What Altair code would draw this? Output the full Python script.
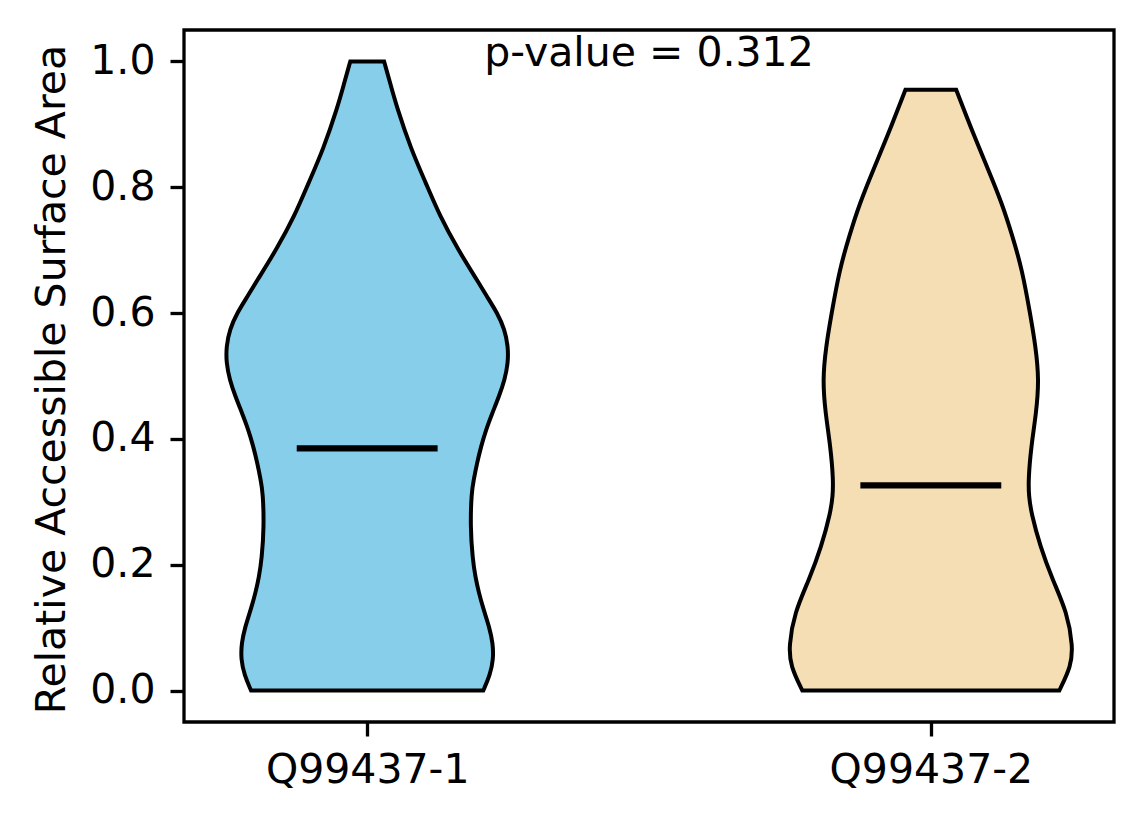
import altair as alt
import pandas as pd

# ---- data ----
categories = ["Q99437-1", "Q99437-2"]
positions = [1, 2]
colors = ["#87CEEB", "#F5DEB3"]
means = [0.385, 0.326]
p_text = "p-value = 0.312"

# violin 1 density profile: y value and half-width (x-axis units)
v1_y = [0.0, 0.025, 0.05, 0.075, 0.10, 0.13, 0.156, 0.18, 0.21, 0.26, 0.315, 0.335,
        0.362, 0.388, 0.415, 0.441, 0.468, 0.494, 0.521, 0.547, 0.574, 0.600, 0.627,
        0.648, 0.701, 0.754, 0.807, 0.860, 0.929, 0.965, 1.0]
v1_hw = [0.206, 0.218, 0.224, 0.223, 0.217, 0.206, 0.198, 0.192, 0.187, 0.183, 0.185, 0.189,
         0.195, 0.202, 0.211, 0.222, 0.234, 0.244, 0.250, 0.250, 0.244, 0.231, 0.212,
         0.198, 0.161, 0.129, 0.104, 0.078, 0.052, 0.041, 0.030]

# violin 2 density profile
v2_y = [0.0, 0.039, 0.07, 0.124, 0.176, 0.229, 0.283, 0.309, 0.335, 0.388, 0.441, 0.494,
        0.547, 0.600, 0.669, 0.722, 0.775, 0.828, 0.881, 0.955]
v2_hw = [0.228, 0.249, 0.252, 0.242, 0.216, 0.194, 0.178, 0.174, 0.173, 0.178, 0.187, 0.192,
         0.186, 0.176, 0.162, 0.145, 0.126, 0.102, 0.077, 0.045]

y_ticks = [0.0, 0.2, 0.4, 0.6, 0.8, 1.0]

FONT = "DejaVu Sans"
FS = 41

rows = []
for cat, pos, ys, hws in [(categories[0], positions[0], v1_y, v1_hw),
                          (categories[1], positions[1], v2_y, v2_hw)]:
    for yv, hw in zip(ys, hws):
        rows.append({"group": cat, "y": yv, "xl": pos - hw, "xr": pos + hw})
violins = pd.DataFrame(rows)

mean_df = pd.DataFrame({
    "group": categories,
    "mean": means,
    "x1": [p - 0.125 for p in positions],
    "x2": [p + 0.125 for p in positions],
})

text_df = pd.DataFrame({"x": [sum(positions) / 2], "y": [0.992], "label": [p_text]})

label_expr = " : ".join(
    f"datum.value == {p} ? '{c}'" for p, c in zip(positions, categories)
) + " : ''"

xscale = alt.Scale(domain=[0.675, 2.325], nice=False, zero=False)
yscale = alt.Scale(domain=[-0.05, 1.05], nice=False, zero=False)

area = alt.Chart(violins).mark_area(
    orient="horizontal", interpolate="basis", stroke="black", strokeWidth=4, opacity=1
).encode(
    y=alt.Y("y:Q", scale=yscale,
            axis=alt.Axis(values=y_ticks, format=".1f", title="Relative Accessible Surface Area",
                          grid=False, domain=False, tickSize=14, tickWidth=3.3, tickColor="black",
                          labelFont=FONT, labelFontSize=FS, labelColor="black", labelPadding=15,
                          titleFont=FONT, titleFontSize=FS, titleFontWeight="normal",
                          titleColor="black", titleAngle=-90, titleBaseline="alphabetic",
                          titleX=-120, titleY=349)),
    x=alt.X("xl:Q", scale=xscale,
            axis=alt.Axis(values=positions, labelExpr=label_expr, title=None, grid=False,
                          domain=False, tickSize=14, tickWidth=3.3, tickColor="black",
                          labelFont=FONT, labelFontSize=FS, labelColor="black",
                          labelPadding=14, labelFlush=False, labelLimit=1000)),
    x2="xr:Q",
    color=alt.Color("group:N", scale=alt.Scale(domain=categories, range=colors), legend=None),
)

mean_rules = alt.Chart(mean_df).mark_rule(color="black", strokeWidth=6.25).encode(
    x=alt.X("x1:Q", scale=xscale),
    x2="x2:Q",
    y=alt.Y("mean:Q", scale=yscale),
)

ptext = alt.Chart(text_df).mark_text(
    font=FONT, fontSize=FS, color="black", align="center", baseline="alphabetic"
).encode(
    x=alt.X("x:Q", scale=xscale),
    y=alt.Y("y:Q", scale=yscale),
    text="label:N",
)

chart = alt.layer(area, mean_rules, ptext).properties(
    width=930, height=692,
    autosize=alt.AutoSizeParams(type="none"),
    padding={"left": 176, "top": 22, "right": 10, "bottom": 80},
    background="white",
).configure_view(stroke="black", strokeWidth=3.3)

chart.save("out.html", embed_options={"renderer": "svg", "actions": False})
